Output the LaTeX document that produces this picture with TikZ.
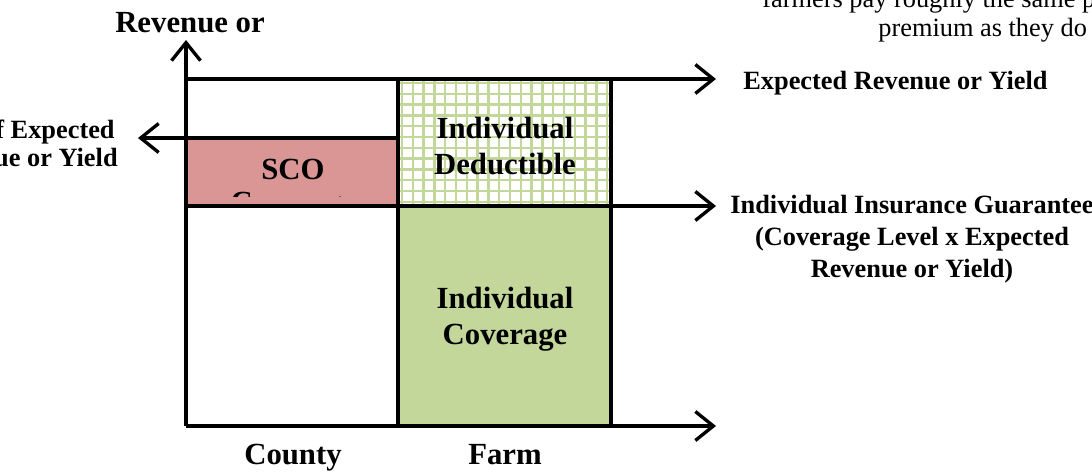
\documentclass[tikz,border=0pt]{standalone}
\usepackage{fontspec}
\setmainfont{Liberation Serif}
\usetikzlibrary{arrows.meta}
\definecolor{scored}{HTML}{D99694}
\definecolor{covgreen}{HTML}{C4D79B}
\tikzset{
	axisline/.style={line width=1.9pt, -{Straight Barb[length=3.6mm,width=5.8mm,line width=1.9pt]}},
	boxline/.style={line width=1.9pt},
	boxlabel/.style={font=\bfseries\fontsize{17.5}{20.5}\selectfont, align=center, inner sep=0pt},
	sidelabel/.style={font=\bfseries\fontsize{15}{18.2}\selectfont, align=center, inner sep=0pt},
	notelabel/.style={font=\fontsize{15}{18}\selectfont, inner sep=0pt}
}
\begin{document}
\begin{tikzpicture}[x=0.02cm,y=-0.02cm]
	\useasboundingbox (0,0) rectangle (1092,472);
	% corners
	\coordinate (O) at (186,426);
	\coordinate (ytip) at (186,40);
	\coordinate (xtip) at (716,426);
	\coordinate (topL) at (186,79);
	\coordinate (toptip) at (716,79);
	\coordinate (midL) at (186,206);
	\coordinate (midtip) at (716,206);
	\coordinate (scoR) at (398,138);
	\coordinate (lefttip) at (138,138);
	\coordinate (farmTL) at (398,79);
	\coordinate (farmTR) at (611,79);
	\coordinate (farmBL) at (398,426);
	\coordinate (farmBR) at (611,426);
	
	% fills
	\fill[scored] (186,138) rectangle (398,206);
	\fill[covgreen] (398,206) rectangle (611,426);
	\begin{scope}
		\clip (398,79) rectangle (611,206);
		\foreach \x in {402,412.8,...,611}
			\draw[covgreen, line width=1.3pt] (\x,79) -- (\x,206);
		\foreach \y in {83,93.8,...,206}
			\draw[covgreen, line width=1.3pt] (398,\y) -- (611,\y);
	\end{scope}
	
	% SCO label, second line hidden by the box
	\node[boxlabel, anchor=base] (sco) at (293,180) {SCO};
	\begin{scope}
		\clip (186,138) rectangle (398,197);
		\node[boxlabel, anchor=base] (scocov) at (293,213) {Coverage};
	\end{scope}
	
	% lines and arrows
	\draw[boxline] (scoR) -- (398,206);
	\draw[axisline] (scoR) -- (lefttip);
	\draw[boxline] (farmTL) -- (farmBL);
	\draw[boxline] (farmTR) -- (farmBR);
	\draw[axisline] (topL) -- (toptip);
	\draw[axisline] (midL) -- (midtip);
	\draw[axisline] (O) -- (xtip);
	\draw[axisline] (O) -- (ytip);
	
	% labels
	\node[boxlabel] (deduct) at (505,146) {Individual\\Deductible};
	\node[boxlabel] (cover) at (505,319) {Individual\\Coverage};
	\node[boxlabel, anchor=base] (yaxis) at (190,33) {Revenue or};
	\node[boxlabel, anchor=base] (county) at (293,465) {County};
	\node[boxlabel, anchor=base] (farm) at (505,465) {Farm};
	\node[sidelabel, anchor=west] (expected) at (743,83) {Expected Revenue or Yield};
	\node[sidelabel, anchor=north] (guarantee) at (912,195) {Individual Insurance Guarantee\\(Coverage Level x Expected\\Revenue or Yield)};
	\node[sidelabel, anchor=base east] (pct1) at (115,139) {f Expected};
	\node[sidelabel, anchor=base east] (pct2) at (118,167) {ue or Yield};
	\node[notelabel, anchor=base west] (note1) at (762,8) {farmers pay roughly the same p};
	\node[notelabel, anchor=base west] (note2) at (878,37) {premium as they do};
\end{tikzpicture}
\end{document}
